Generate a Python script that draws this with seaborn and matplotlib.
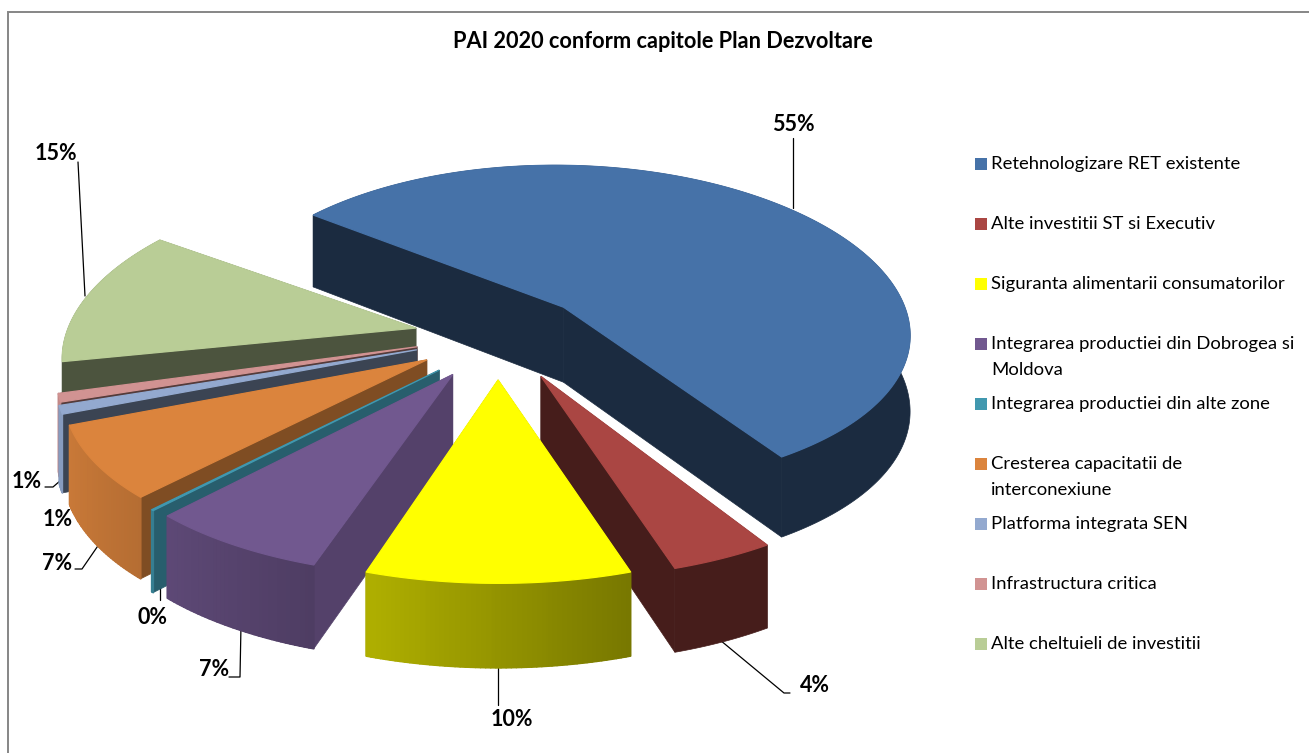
import numpy as np
import matplotlib
matplotlib.use("Agg")
import matplotlib.pyplot as plt
from matplotlib.collections import PolyCollection
from matplotlib.colors import to_rgb
import seaborn as sns

categories = ["Retehnologizare RET existente", "Alte investitii ST si Executiv",
              "Siguranta alimentarii consumatorilor",
              "Integrarea productiei din Dobrogea si\nMoldova",
              "Integrarea productiei din alte zone",
              "Cresterea capacitatii de\ninterconexiune",
              "Platforma integrata SEN", "Infrastructura critica",
              "Alte cheltuieli de investitii"]
values = [55.3, 4, 10, 7, 0.1, 7, 0.8, 0.8, 15]

sns.set_theme(style="white")
plt.rcParams['font.family'] = ['Lato', 'DejaVu Sans']

colors = sns.color_palette(["#4672A8", "#AA4643", "#FFFF00", "#71588F", "#4198AF",
                            "#DB843D", "#93A9CF", "#D19392", "#B9CD96"])
side_shade = [0.38, 0.41, 0.5, 0.74, 0.62, 0.58, 0.40, 0.40, 0.41]
explode_x = [0.195, 0.121, 0.003, -0.122, -0.160, -0.196, -0.226, -0.226, -0.233]
explode_y = [0.171, -0.242, -0.262, -0.231, -0.206, -0.147, -0.088, -0.070, 0.042]
# small angular corrections imitating the perspective of the 3-D view
trim_start = [0, 0.8, 0, 0, 0, 0, 0, 0, 4]
trim_end = [0, 0.8, 0, 0, 0, 0, 0, 0, -3.5]
flat_rim = [True, True, False, False, False, False, False, False, True]
draw_order = [0, 8, 7, 6, 5, 4, 3, 1, 2]

START = -51.5
CX, CY, RX, RY, KX, KY, DEPTH = 497.0, 335.0, 350.0, 166.0, 0.15, 0.124, 76.0


def project(X, Y, z=0.0):
    X, Y = np.asarray(X, float), np.asarray(Y, float)
    px = 1.0 / (1.0 + KX * Y)
    py = 1.0 / (1.0 + KY * Y)
    return CX + RX * X * px, CY - RY * Y * py + z * DEPTH * np.sqrt(px)


def face(X, Y, z=0.0):
    return np.column_stack(project(X, Y, z))


fig = plt.figure(figsize=(13.09, 7.53), dpi=100)
ax = fig.add_axes([0, 0, 1, 1])
ax.set_xlim(0, 1309)
ax.set_ylim(753, 0)
ax.axis("off")

ax.plot([8, 8, 1309], [753, 12, 12], color="#868686", lw=1.4, solid_joinstyle="miter")

shares = np.array(values) / np.sum(values) * 360
starts = START + np.concatenate([[0], np.cumsum(shares)[:-1]])

for zo, i in enumerate(draw_order):
    th = np.radians(np.linspace(starts[i] + trim_start[i], starts[i] + shares[i] + trim_end[i],
                                max(6, int(shares[i] * 1.5))))
    ox, oy = explode_x[i], explode_y[i]
    ax_x = ox + np.sin(th)
    ax_y = oy + np.cos(th)
    base = np.array(to_rgb(colors[i]))
    sc = tuple(base * side_shade[i])
    z = 10 + zo * 3
    # the two cut faces
    for j in (0, -1):
        X = [ox, ax_x[j], ax_x[j], ox]
        Y = [oy, ax_y[j], ax_y[j], oy]
        top = face(X[:2], Y[:2])
        bot = face(X[2:], Y[2:], 1.0)
        ax.fill(*np.vstack([top, bot]).T, color=sc, lw=0.5, zorder=z)
    # outer rim, shaded band by band over a solid backing
    rim_t = face(ax_x, ax_y)
    rim_b = face(ax_x[::-1], ax_y[::-1], 1.0)
    mid = th[len(th) // 2]
    flat = flat_rim[i]
    backing = sc if flat else tuple(base * np.clip(0.58 - 0.36 * np.sin(mid), 0.4, 0.95))
    ax.fill(*np.vstack([rim_t, rim_b]).T, color=backing, lw=0.5, zorder=z + 0.5)
    if not flat:
        quads, fc = [], []
        for a in range(0, len(th) - 1):
            t = face(ax_x[a:a + 2], ax_y[a:a + 2])
            b = face(ax_x[a:a + 2][::-1], ax_y[a:a + 2][::-1], 1.0)
            quads.append(np.vstack([t, b]))
            s = np.clip(0.58 - 0.36 * np.sin(th[a]), 0.4, 0.95)
            fc.append(tuple(base * s))
        ax.add_collection(PolyCollection(quads, facecolors=fc, edgecolors=fc, linewidths=1.2, zorder=z + 1))
    # top surface
    poly = face(np.r_[ox, ax_x], np.r_[oy, ax_y])
    ax.fill(*poly.T, color=colors[i], lw=0.9, zorder=z + 2)

# data labels and leader lines
label_pos = [(793, 124), (815, 686), (512, 719), (214, 669), (153, 618),
             (57, 563), (58, 519), (27, 481), (56, 153)]
leaders = [[(793, 138), (793, 208)],
           [(790, 693), (784, 693), (720, 640)],
           [(498, 705), (498, 664)],
           [(229, 677), (240, 677), (241, 625)],
           [(160, 600), (160, 585)],
           [(75, 569), (82, 569), (104, 537)],
           [(70, 503), (70, 483)],
           [(45, 487), (53, 487), (68, 474)],
           [(78, 162), (85, 296)]]
for i, v in enumerate(values):
    ax.text(*label_pos[i], f"{v:.0f}%", ha="center", va="center", fontsize=15.5,
            fontweight="bold", color="black", zorder=60)
    ax.plot(*zip(*leaders[i]), color="black", lw=0.9, zorder=5)

ax.text(663, 41, "PAI 2020 conform capitole Plan Dezvoltare", ha="center", va="center",
        fontsize=15.7, fontweight="bold", color="black", zorder=60)

# legend
for i, name in enumerate(categories):
    y = 164 + 60 * i
    ax.fill([975, 987, 987, 975], [y - 6, y - 6, y + 6, y + 6], color=colors[i], lw=0, zorder=60)
    for n, line in enumerate(name.split("\n")):
        ax.text(991, y + 26 * n, line, ha="left", va="center", fontsize=13.3, color="black", zorder=60)

fig.savefig("out.png", dpi=100, facecolor="white")
